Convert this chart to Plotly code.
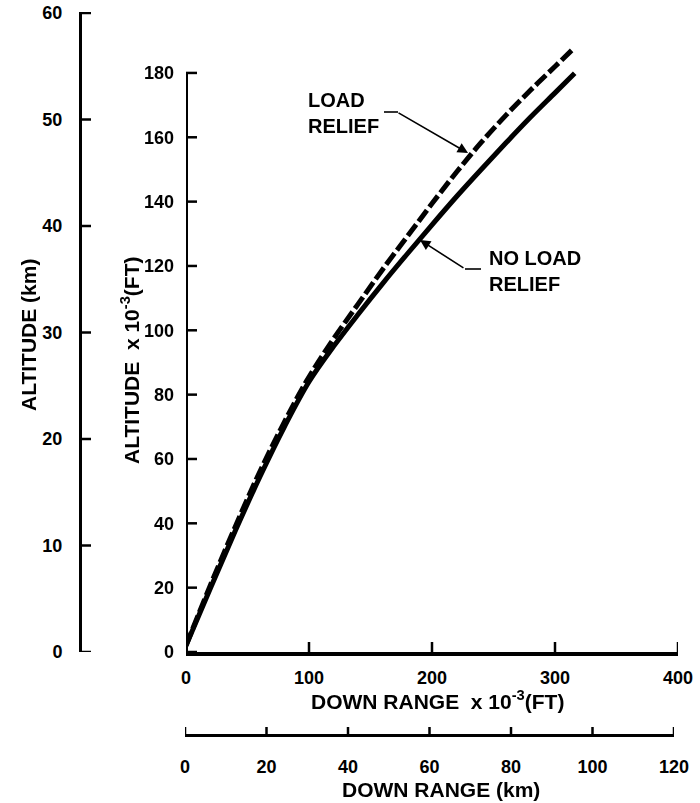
import plotly.graph_objects as go

# ---- data ----
# Down range x 10^-3 (ft) and altitude x 10^-3 (ft)
load_x = [0, 19, 38.5, 58, 78, 98, 119, 140, 160, 180, 200, 220, 240, 260, 280, 300, 314]
load_y = [2, 20, 37.6, 54.4, 70, 84.2, 96.8, 108.2, 119, 129.2, 139.4, 149.2, 158.4, 166.8, 174.6, 182, 187.2]

noload_x = [0, 20, 40, 60, 80, 100, 120, 140, 160, 180, 200, 220, 240, 260, 280, 300, 316]
noload_y = [2, 20, 37.6, 54.4, 70, 84, 95, 105, 114.6, 123.8, 132.8, 141.6, 150, 158.2, 166.2, 173.8, 179.9]

x_ft_ticks = [0, 100, 200, 300, 400]
y_ft_ticks = [0, 20, 40, 60, 80, 100, 120, 140, 160, 180]
x_km_ticks = [0, 20, 40, 60, 80, 100, 120]
y_km_ticks = [0, 10, 20, 30, 40, 50, 60]
KFT_TO_KM = 0.3048

W, H = 700, 803


def px(x):
    return x / W


def py(y):
    return 1 - y / H


FONT = "Liberation Sans, Arial, Helvetica, sans-serif"
tickfont = dict(family=FONT, size=18, color="black", weight="bold")

fig = go.Figure()

fig.add_trace(go.Scatter(x=noload_x, y=noload_y, mode="lines",
                         line=dict(color="black", width=5, shape="spline", smoothing=1.0),
                         name="NO LOAD RELIEF", showlegend=False, hoverinfo="skip"))
fig.add_trace(go.Scatter(x=load_x, y=load_y, mode="lines",
                         line=dict(color="black", width=5, dash="14px,4px", shape="spline", smoothing=1.0),
                         name="LOAD RELIEF", showlegend=False, hoverinfo="skip"))

# invisible traces so that the metric (km) axes are drawn
fig.add_trace(go.Scatter(x=[v * KFT_TO_KM for v in noload_x], y=noload_y, xaxis="x2", yaxis="y",
                         mode="markers", opacity=0, showlegend=False, hoverinfo="skip"))
fig.add_trace(go.Scatter(x=noload_x, y=[v * KFT_TO_KM for v in noload_y], xaxis="x", yaxis="y2",
                         mode="markers", opacity=0, showlegend=False, hoverinfo="skip"))

Y0_PX, YTOP_PX = 652, 12
X0_PX, X1_PX = 186, 678
y_top_ft = (Y0_PX - YTOP_PX) / 3.217
y_top_km = (Y0_PX - YTOP_PX) / 10.65
KM_Y_AXIS_PX = 80
KM_X_AXIS_PX = 735

common = dict(showgrid=False, zeroline=False, fixedrange=True, automargin=False,
              ticks="", tickfont=tickfont)

fig.update_layout(
    width=W, height=H,
    margin=dict(l=0, r=0, t=0, b=0, pad=0),
    paper_bgcolor="white", plot_bgcolor="rgba(0,0,0,0)",
    showlegend=False,
    xaxis=dict(domain=[px(X0_PX), px(X1_PX)], range=[0, 400], anchor="y",
               showline=True, linewidth=4, linecolor="black",
               tickvals=x_ft_ticks, ticktext=[str(v) for v in x_ft_ticks],
               ticklabelstandoff=6, **common),
    yaxis=dict(domain=[py(Y0_PX), py(YTOP_PX)], range=[0, y_top_ft], anchor="x",
               showline=False,
               tickvals=y_ft_ticks, ticktext=[str(v) for v in y_ft_ticks],
               ticklabelstandoff=11, **common),
    yaxis2=dict(overlaying="y", anchor="free", position=px(KM_Y_AXIS_PX), side="left",
                range=[0, y_top_km], showline=True, linewidth=3, linecolor="black",
                tickvals=y_km_ticks, ticktext=[str(v) for v in y_km_ticks],
                ticklabelstandoff=13, **common),
    xaxis2=dict(domain=[px(185), px(674)], anchor="free", position=py(KM_X_AXIS_PX), side="bottom",
                range=[0, 120], showline=True, linewidth=2.5, linecolor="black",
                tickvals=x_km_ticks, ticktext=[str(v) for v in x_km_ticks],
                ticklabelstandoff=15, **common),
)

shapes = []
# left (ft) altitude axis line, running from 0 to 180 only
shapes.append(dict(type="line", xref="x", yref="y", x0=0, x1=0, y0=0, y1=180,
                   line=dict(color="black", width=4)))
TICK = dict(color="black", width=2.5)
# tick marks (pointing into the plot), placed through the axes
for v in x_ft_ticks:
    shapes.append(dict(type="line", xref="x", yref="y domain", x0=v, x1=v,
                       y0=0, y1=10 / (Y0_PX - YTOP_PX), line=TICK))
for v in y_ft_ticks:
    shapes.append(dict(type="line", xref="x domain", yref="y", x0=0, x1=11 / (X1_PX - X0_PX),
                       y0=v, y1=v, line=TICK))
for v in y_km_ticks:
    shapes.append(dict(type="line", xref="paper", yref="y2", x0=px(KM_Y_AXIS_PX),
                       x1=px(KM_Y_AXIS_PX + 11), y0=v, y1=v, line=TICK))
for v in x_km_ticks:
    shapes.append(dict(type="line", xref="x2", yref="paper", x0=v, x1=v,
                       y0=py(KM_X_AXIS_PX), y1=py(KM_X_AXIS_PX - 8), line=TICK))
# short horizontal parts of the leader lines
shapes.append(dict(type="line", xref="paper", yref="paper",
                   x0=px(384), x1=px(398), y0=py(112), y1=py(112),
                   line=dict(color="black", width=1.6)))
shapes.append(dict(type="line", xref="paper", yref="paper",
                   x0=px(465), x1=px(481), y0=py(269), y1=py(269),
                   line=dict(color="black", width=1.6)))
fig.update_layout(shapes=shapes)

titlefont = dict(family=FONT, size=21, color="black", weight="bold")
labelfont = dict(family=FONT, size=20, color="black", weight="bold")
NB = "\u00a0"

annotations = [
    dict(text=f"DOWN RANGE{NB}{NB}x 10<sup>-3</sup>(FT)", x=px(437), y=py(700),
         xref="paper", yref="paper", showarrow=False, font=titlefont,
         xanchor="center", yanchor="middle"),
    dict(text=f"DOWN RANGE{NB}(km)", x=px(441), y=py(789),
         xref="paper", yref="paper", showarrow=False, font=titlefont,
         xanchor="center", yanchor="middle"),
    dict(text=f"ALTITUDE{NB}{NB}x 10<sup>-3</sup>(FT)", x=px(130), y=py(360),
         xref="paper", yref="paper", showarrow=False, font=titlefont, textangle=-90,
         xanchor="center", yanchor="middle"),
    dict(text=f"ALTITUDE{NB}(km)", x=px(28), y=py(335),
         xref="paper", yref="paper", showarrow=False, font=titlefont, textangle=-90,
         xanchor="center", yanchor="middle"),
    dict(text="LOAD<br>RELIEF", x=px(306), y=py(113),
         xref="paper", yref="paper", showarrow=False, font=labelfont,
         xanchor="left", yanchor="middle", align="left"),
    dict(text="NO LOAD<br>RELIEF", x=px(487), y=py(271),
         xref="paper", yref="paper", showarrow=False, font=labelfont,
         xanchor="left", yanchor="middle", align="left"),
    # arrows
    dict(text="", x=229.3, y=155.1, xref="x", yref="y", showarrow=True,
         ax=-71, ay=-41, arrowhead=2, arrowsize=1.3, arrowwidth=1.6, arrowcolor="black"),
    dict(text="", x=190.2, y=128.1, xref="x", yref="y", showarrow=True,
         ax=45, ay=29, arrowhead=2, arrowsize=1.3, arrowwidth=1.6, arrowcolor="black"),
]
fig.update_layout(annotations=annotations)

fig.write_html("out.html")
